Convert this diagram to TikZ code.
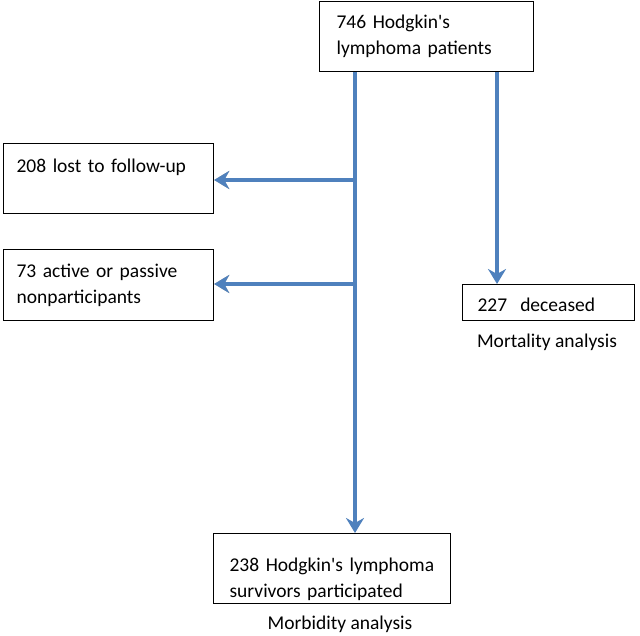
\documentclass[tikz,border=0pt]{standalone}
\usepackage{fontspec}
\setmainfont{Carlito}[Ligatures=TeXOff]
\usetikzlibrary{arrows.meta}
\definecolor{flowblue}{HTML}{4F81BD}
\definecolor{shadowgray}{HTML}{9A9A9A}
\begin{document}
\begin{tikzpicture}[x=1pt,y=-1pt,
  every node/.style={font=\fontsize{19.5}{26}\selectfont},
  box/.style={draw=black,line width=1.2pt,rectangle,anchor=north west,align=left,inner ysep=0pt},
  flow/.style={draw=flowblue,line width=4pt,-{Stealth[length=15pt,width=18pt,inset=5pt]}},
  flowshadow/.style={draw=shadowgray,line width=4pt,-{Stealth[length=15pt,width=18pt,inset=5pt]}},
  plain/.style={inner sep=0pt}]
\useasboundingbox (0,0) rectangle (640,636);
\fill[white] (0,0) rectangle (640,636);

\node[box,inner xsep=17pt,text width=180pt,minimum height=70pt] (top) at (319,1) {746 Hodgkin's\\lymphoma patients};
\node[box,inner xsep=13pt,text width=184pt,minimum height=70pt] (lost) at (3,143) {208 lost to follow-up\\\mbox{}};
\node[box,inner xsep=13pt,text width=184pt,minimum height=71pt] (nonp) at (3,249) {73 active or passive\\nonparticipants};
\node[box,inner xsep=15pt,text width=142pt,minimum height=36pt] (dec) at (462,284) {\rule{0pt}{17pt}227\ \ deceased};
\node[box,inner xsep=16pt,text width=205pt,minimum height=70pt] (surv) at (213,533) {\rule{0pt}{34pt}238 Hodgkin's lymphoma\\survivors participated};

\node[plain] (mort) at (547,342) {Mortality analysis};
\node[plain] (morb) at (340,624) {Morbidity analysis};

\coordinate (ta) at (top.south -| 355,0);
\coordinate (tb) at (top.south -| 497,0);
\coordinate (j1) at (355,180);
\coordinate (j2) at (355,284);
\coordinate (e1) at (lost.east |- j1);
\coordinate (e2) at (nonp.east |- j2);

\draw[flowshadow,yshift=-2pt,xshift=1pt] (j1) -- (e1);
\draw[flowshadow,yshift=-2pt,xshift=1pt] (j2) -- (e2);
\draw[flow] (j1) -- (e1);
\draw[flow] (j2) -- (e2);
\draw[flow] (ta) -- (ta |- surv.north);
\draw[flow] (tb) -- (tb |- dec.north);
\end{tikzpicture}
\end{document}
